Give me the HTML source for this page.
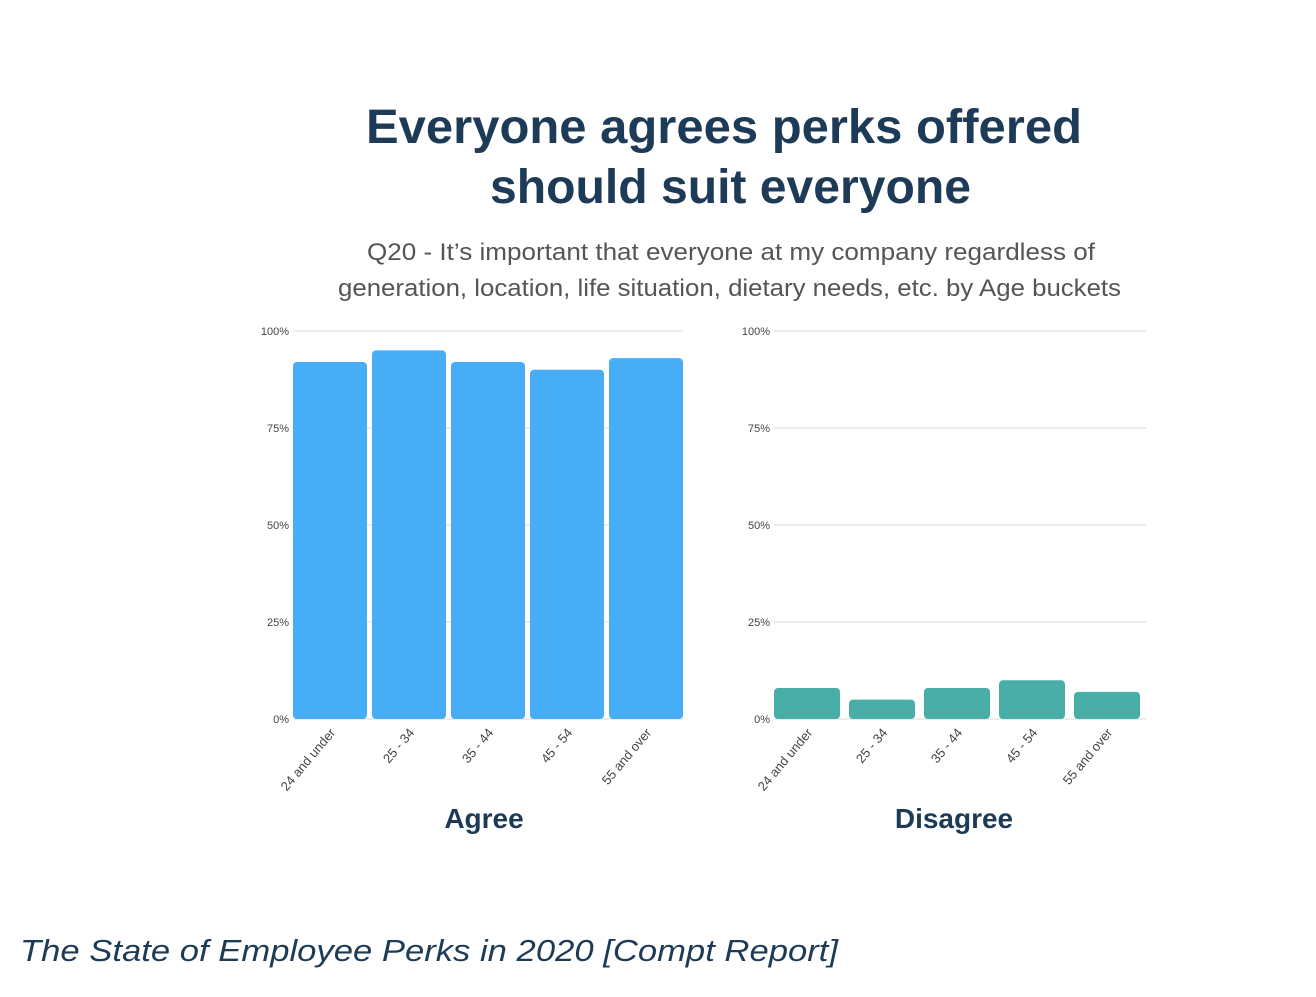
<!DOCTYPE html>
<html><head><meta charset="utf-8"><style>
body{margin:0;width:1316px;height:992px;background:#fff;overflow:hidden;font-family:"Liberation Sans",sans-serif;}
</style></head><body>
<svg width="1316" height="992">
<text x="366" y="143" textLength="716" lengthAdjust="spacingAndGlyphs" font-size="48" font-weight="bold" fill="#1d3b57">Everyone agrees perks offered</text>
<text x="490" y="203" textLength="481" lengthAdjust="spacingAndGlyphs" font-size="48" font-weight="bold" fill="#1d3b57">should suit everyone</text>
<text x="367" y="260" textLength="728" lengthAdjust="spacingAndGlyphs" font-size="24" fill="#555">Q20 - It’s important that everyone at my company regardless of</text>
<text x="338" y="296" textLength="783" lengthAdjust="spacingAndGlyphs" font-size="24" fill="#555">generation, location, life situation, dietary needs, etc. by Age buckets</text>
<g id="left"></g>
<g id="right"></g>
<text x="484" y="828" text-anchor="middle" font-size="28" font-weight="bold" fill="#1d3b57">Agree</text>
<text x="954" y="828" text-anchor="middle" font-size="28" font-weight="bold" fill="#1d3b57">Disagree</text>
<text x="20" y="961" textLength="818" lengthAdjust="spacingAndGlyphs" font-size="31" font-style="italic" fill="#1d3b57">The State of Employee Perks in 2020 [Compt Report]</text>
</svg>
<script>
const categories=["24 and under","25 - 34","35 - 44","45 - 54","55 and over"];
const agreeValues=[92,95,92,90,93];
const disagreeValues=[8,5,8,10,7];
const tickValues=[0,25,50,75,100];
const tickLabels=["0%","25%","50%","75%","100%"];
const NS="http://www.w3.org/2000/svg";
function mk(tag,attrs,parent){const e=document.createElementNS(NS,tag);for(const k in attrs)e.setAttribute(k,attrs[k]);parent.appendChild(e);return e;}
function panel(g,x0,x1,gx1,values,color,gap,name){
  const y=v=>719-v*3.88;
  tickValues.forEach((t,i)=>{
    const l=mk('line',{x1:x0,x2:gx1,y1:y(t),y2:y(t),stroke:'#e6e6e6','stroke-width':1.5},g);
    
    
    const tx=mk('text',{x:x0-4,y:y(t)+4,'text-anchor':'end','font-size':11,fill:'#444'},g);
    tx.textContent=tickLabels[i];
    
    
  });
  const slot=(x1-x0+gap)/categories.length;
  values.forEach((v,i)=>{
    const bx=x0+i*slot;
    const r=mk('rect',{x:bx,y:y(v),width:slot-gap,height:y(0)-y(v),rx:4,fill:color},g);
    
    
    const cx=bx+(slot-gap)/2+6, cy=733;
    const tx=mk('text',{x:cx,y:cy,'text-anchor':'end','font-size':13,fill:'#444',transform:`rotate(-50 ${cx} ${cy})`},g);
    tx.textContent=categories[i];
    
    
  });
}
panel(document.getElementById('left'),293,683,683,agreeValues,'#47adf7',5,'agree');
panel(document.getElementById('right'),774,1140,1146,disagreeValues,'#4aaea8',9,'disagree');
</script>
</body></html>
